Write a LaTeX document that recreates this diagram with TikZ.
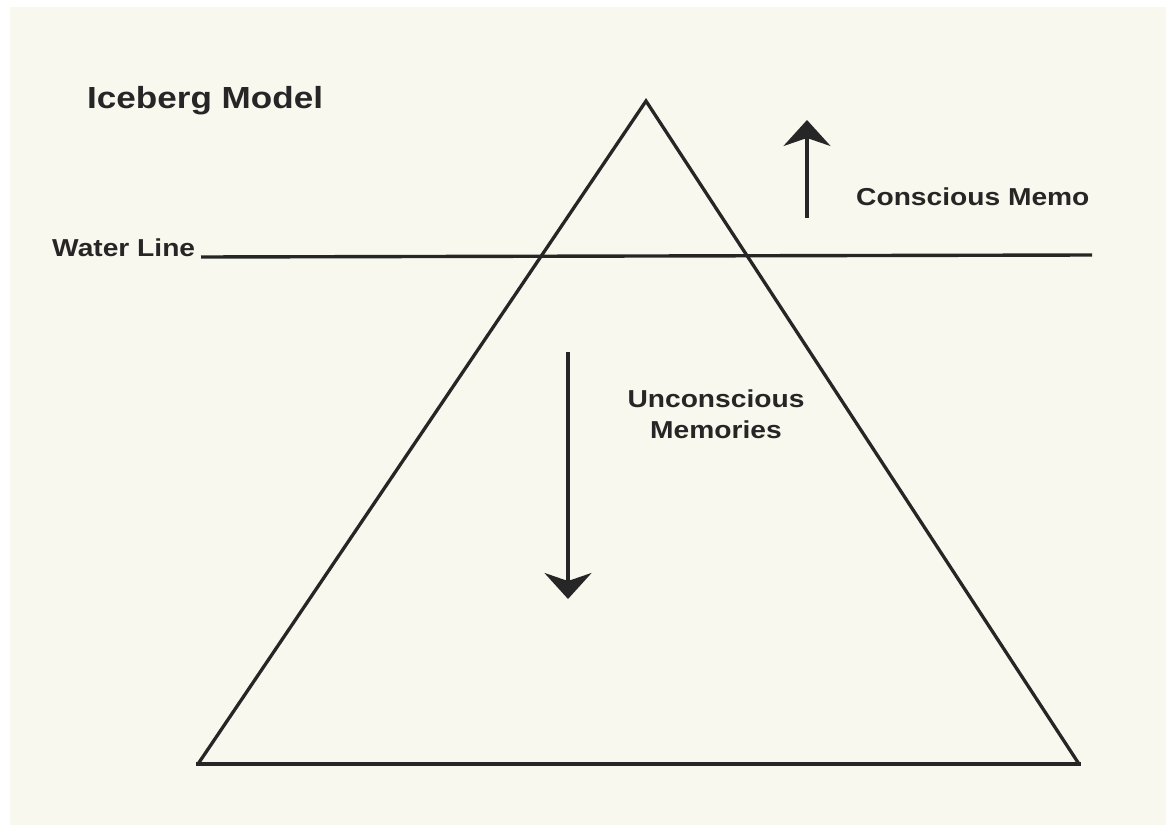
\documentclass[tikz,border=0pt]{standalone}
\usepackage{fontspec}
\newfontfamily\labelfont[FakeStretch=1.15]{Liberation Sans}
\usetikzlibrary{arrows.meta}
\definecolor{paper}{HTML}{F8F8EE}
\definecolor{ink}{HTML}{262626}
\tikzset{
  label text/.style={text=ink, inner sep=0pt, font=\labelfont\bfseries\fontsize{24.5}{31}\selectfont},
  title text/.style={text=ink, inner sep=0pt, font=\labelfont\bfseries\fontsize{30.5}{36}\selectfont},
  berg/.style={draw=ink, line width=3.3pt, line join=miter},
  waterline/.style={draw=ink, line width=3.4pt},
  flow/.style={draw=ink, line width=3.2pt,
    -{Stealth[length=26pt, width=47pt, inset=8pt]}},
}
\begin{document}
\begin{tikzpicture}[x=1pt, y=-1pt]
  % page
  \fill[white] (0,0) rectangle (1166,826);
  \fill[paper] (10,7) rectangle (1166,825);
  \useasboundingbox (0,0) rectangle (1166,826);

  % iceberg outline
  \coordinate (apex) at (646,101);
  \coordinate (baseL) at (198,764);
  \coordinate (baseR) at (1079,764);
  \draw[berg] (baseL) -- (apex) -- (baseR);
  \draw[ink, line width=4.4pt] ([xshift=-2pt]baseL) -- ([xshift=2pt]baseR);

  % water line
  \node[label text, anchor=base west] (wl) at (52,257) {Water Line};
  \coordinate (wlEnd) at (1092,255);
  \draw[waterline] (201,257) -- (wlEnd);

  % title
  \node[title text, anchor=base west] (title) at (87,109) {Iceberg Model};

  % conscious part
  \coordinate (upFrom) at (807,218);
  \coordinate (upTo) at (807,120);
  \draw[flow] (upFrom) -- (upTo);
  \node[label text, anchor=base west] (cons) at (856,206) {Conscious Memo};

  % unconscious part
  \coordinate (downFrom) at (568,352);
  \coordinate (downTo) at (568,599);
  \draw[flow] (downFrom) -- (downTo);
  \node[label text, anchor=base, align=center] (uncons) at (716,438) {Unconscious\\Memories};
\end{tikzpicture}
\end{document}
